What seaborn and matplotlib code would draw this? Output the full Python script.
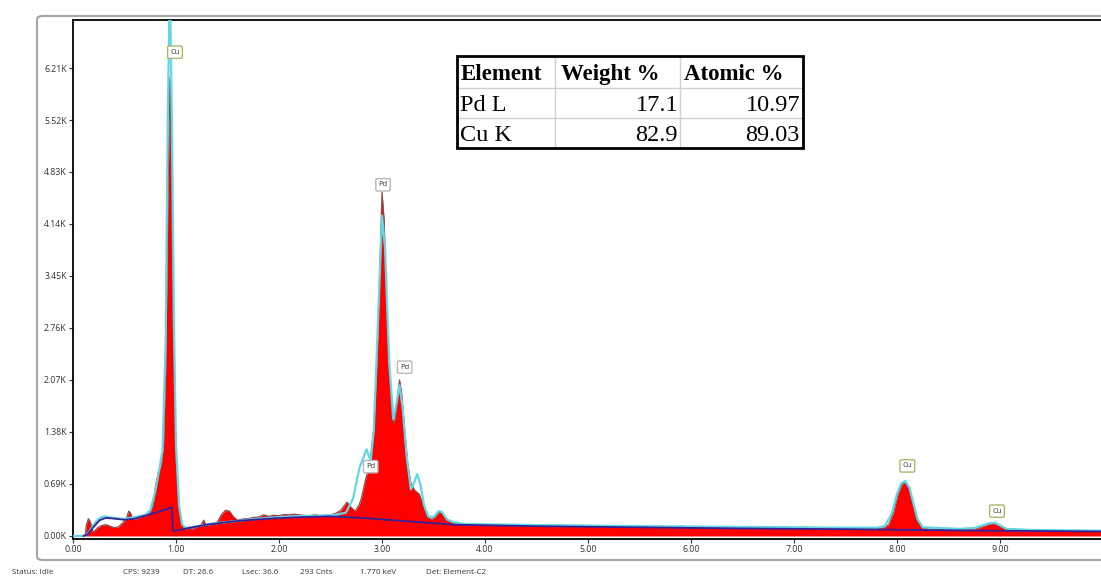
import matplotlib
matplotlib.use("Agg")
import matplotlib.pyplot as plt
from matplotlib.patches import FancyBboxPatch, Rectangle
from matplotlib.lines import Line2D
import seaborn as sns
import pandas as pd

# ---- EDS spectrum: measured counts (energy in keV, counts) ----
spec_energy = [0.00, 0.10, 0.12, 0.13, 0.15, 0.17, 0.19, 0.21, 0.24, 0.28, 0.32, 0.36, 0.40, 0.44,
               0.48, 0.52, 0.54, 0.56, 0.58, 0.62, 0.66, 0.70, 0.74, 0.78, 0.80, 0.83, 0.86, 0.88,
               0.90, 0.92, 0.94, 0.955, 0.97, 0.99, 1.01, 1.03, 1.05, 1.07, 1.10, 1.13, 1.16,
               1.20, 1.24, 1.27, 1.29, 1.32, 1.36, 1.40, 1.44, 1.48, 1.52, 1.56, 1.60, 1.65, 1.70,
               1.75, 1.80, 1.85, 1.90, 1.95, 2.00, 2.05, 2.10, 2.15, 2.20, 2.25, 2.30, 2.35, 2.40,
               2.45, 2.50, 2.55, 2.60, 2.66, 2.70, 2.74, 2.78, 2.80, 2.84, 2.88, 2.92, 2.95, 2.98,
               3.00, 3.02, 3.04, 3.07, 3.10, 3.12, 3.15, 3.17, 3.19, 3.22, 3.25, 3.28, 3.32, 3.36,
               3.40, 3.44, 3.48, 3.52, 3.55, 3.58, 3.61, 3.65, 3.70, 3.75, 3.80, 3.90, 4.00, 4.10,
               4.20, 4.30, 4.40, 4.50, 4.60, 4.70, 4.80, 4.90, 5.00, 5.10, 5.20, 5.30, 5.40, 5.50,
               5.60, 5.70, 5.80, 5.90, 6.00, 6.10, 6.20, 6.30, 6.40, 6.50, 6.60, 6.70, 6.80, 6.90,
               7.00, 7.10, 7.20, 7.30, 7.40, 7.50, 7.60, 7.70, 7.80, 7.85, 7.92, 7.97, 8.01, 8.05,
               8.08, 8.11, 8.15, 8.19, 8.24, 8.30, 8.40, 8.50, 8.60, 8.70, 8.78, 8.84, 8.89, 8.93,
               8.96, 9.00, 9.04, 9.08, 9.15, 9.20, 9.30, 9.40, 9.50, 9.60, 9.70, 9.80, 9.98]
spec_counts = [0, 0, 20, 150, 230, 180, 60, 70, 110, 140, 150, 130, 110, 120,
               170, 230, 330, 300, 220, 230, 250, 270, 290, 420, 650, 850, 960, 1250,
               2200, 4300, 6080, 5000, 3000, 1600, 800, 400, 200, 130, 100, 120, 90,
               120, 140, 210, 150, 160, 170, 180, 280, 340, 330, 250, 210, 225, 230,
               245, 250, 280, 260, 275, 270, 285, 280, 290, 280, 272, 270, 282, 270,
               276, 280, 300, 340, 450, 380, 330, 420, 500, 750, 950, 1400, 2300, 3600,
               4560, 4200, 3300, 2200, 1550, 1500, 1850, 2070, 1900, 1400, 950, 700, 600, 560,
               420, 250, 220, 260, 310, 320, 260, 200, 170, 160, 150, 158, 145, 152,
               140, 148, 138, 146, 134, 142, 136, 130, 138, 128, 134, 126, 132, 130,
               124, 129, 121, 128, 120, 125, 118, 122, 117, 121, 114, 119, 112, 117,
               110, 116, 108, 113, 107, 111, 104, 108, 102, 100, 150, 330, 560, 690,
               705, 650, 450, 230, 110, 92, 88, 90, 84, 82, 100, 130, 158, 165,
               160, 140, 110, 80, 74, 72, 70, 68, 70, 66, 65, 64, 62]

# ---- fitted spectrum ----
fit_energy = [0.00, 0.12, 0.16, 0.20, 0.25, 0.30, 0.35, 0.40, 0.45, 0.50, 0.55, 0.60, 0.65, 0.70,
              0.75, 0.80, 0.84, 0.87, 0.90, 0.92, 0.94, 0.96, 0.98, 1.00, 1.03, 1.06, 1.10, 1.20,
              1.40, 1.60, 1.80, 2.00, 2.20, 2.40, 2.55, 2.65, 2.72, 2.78, 2.85, 2.89, 2.92, 2.96,
              3.00, 3.03, 3.07, 3.11, 3.14, 3.17, 3.20, 3.24, 3.28, 3.31, 3.34, 3.37, 3.41, 3.45,
              3.50, 3.55, 3.58, 3.63, 3.70, 3.80, 4.50, 5.50, 6.50, 7.50, 7.80, 7.88, 7.95, 8.00,
              8.04, 8.08, 8.12, 8.16, 8.20, 8.25, 8.60, 8.75, 8.85, 8.90, 8.95, 9.00, 9.06, 9.30,
              9.98]
fit_counts = [0, 0, 60, 150, 230, 260, 250, 240, 230, 225, 240, 250, 265, 280,
              340, 600, 900, 1150, 2600, 5500, 7400, 5500, 2800, 1200, 400, 150, 100, 130,
              170, 200, 230, 250, 265, 270, 280, 310, 500, 900, 1150, 1000, 1400, 2800,
              4250, 3800, 2300, 1550, 1750, 2000, 1700, 1050, 620, 700, 820, 700, 400, 260,
              250, 330, 320, 220, 180, 160, 145, 130, 120, 110, 110, 130, 300, 560,
              700, 730, 640, 430, 220, 115, 95, 105, 150, 170, 175, 140, 95, 80,
              70]

# ---- continuum background ----
bkg_energy = [0.10, 0.14, 0.20, 0.26, 0.32, 0.40, 0.50, 0.60, 0.70, 0.80, 0.90, 0.96, 0.97,
              1.00, 1.10, 1.30, 1.60, 1.90, 2.20, 2.50, 2.80, 3.10, 3.40, 3.70, 4.50, 5.50,
              6.50, 7.50, 8.50, 9.50, 9.98]
bkg_counts = [0, 20, 120, 210, 240, 230, 215, 230, 270, 310, 350, 380, 70,
              70, 100, 150, 200, 230, 250, 260, 240, 210, 180, 150, 130, 115,
              100, 90, 75, 65, 60]

# ---- peak identifications ----
peak_labels = ["Cu", "Pd", "Pd", "Pd", "Cu", "Cu"]
peak_energy = [0.99, 3.01, 3.22, 2.89, 8.10, 8.97]
peak_label_y = [6420, 4660, 2240, 920, 930, 330]

# ---- quantification table ----
table_header = ["Element", "Weight %", "Atomic %"]
table_elements = ["Pd L", "Cu K"]
table_weight = ["17.1", "82.9"]
table_atomic = ["10.97", "89.03"]

# ---- acquisition status ----
status_items = ["Status: Idle", "CPS: 9239", "DT: 26.6", "Lsec: 36.6", "293 Cnts",
                "1.770 keV", "Det: Element-C2"]

y_ticks = [0, 690, 1380, 2070, 2760, 3450, 4140, 4830, 5520, 6210]
x_ticks = [0, 1, 2, 3, 4, 5, 6, 7, 8, 9]

sns.set_theme(style="white")
plt.rcParams["font.family"] = ["Open Sans", "DejaVu Sans"]

W, H = 1101, 576
fig = plt.figure(figsize=(W / 100, H / 100), dpi=100)
fig.patch.set_facecolor("white")

# outer panel frame
frame = FancyBboxPatch((37 / W, 16 / H), (W + 20) / W, (560 - 16) / H,
                       boxstyle="round,pad=0,rounding_size=0.006",
                       transform=fig.transFigure, fc="none", ec="#a8a8a8", lw=1.6,
                       clip_on=False)
fig.patches.append(frame)

ax = fig.add_axes([73 / W, (H - 539) / H, (W - 73) / W, (539 - 20) / H])
ax.set_facecolor("white")

spec = pd.DataFrame({"Energy": spec_energy, "Counts": spec_counts})
fit = pd.DataFrame({"Energy": fit_energy, "Counts": fit_counts})
bkg = pd.DataFrame({"Energy": bkg_energy, "Counts": bkg_counts})

ax.fill_between(spec["Energy"], 0, spec["Counts"], color="#ff0000", lw=0, zorder=2)
sns.lineplot(data=spec, x="Energy", y="Counts", ax=ax, color="#8c4a4a", lw=0.9,
             zorder=3, estimator=None, sort=False)
sns.lineplot(data=fit, x="Energy", y="Counts", ax=ax, color="#62d6e3", lw=1.6,
             zorder=4, estimator=None, sort=False)
sns.lineplot(data=bkg, x="Energy", y="Counts", ax=ax, color="#33229a", lw=1.3,
             zorder=5, estimator=None, sort=False)

for lab, e, yv in zip(peak_labels, peak_energy, peak_label_y):
    ec = "#a9b865" if lab == "Cu" else "#bdb4b4"
    ax.text(e, yv, lab, fontsize=5.5, ha="center", va="center", color="#333333", zorder=6,
            bbox=dict(boxstyle="round,pad=0.35,rounding_size=0.2", fc="white", ec=ec, lw=1.0))

ax.set_xlim(0, 9.98)
ax.set_ylim(-40, 6847)
ax.set_xticks(x_ticks)
ax.set_xticklabels([f"{v:.2f}" for v in x_ticks])
ax.set_yticks(y_ticks)
ax.set_yticklabels([f"{v / 1000:.2f}K" for v in y_ticks])
ax.set_xlabel("")
ax.set_ylabel("")
ax.tick_params(axis="both", labelsize=6.3, colors="#333333", direction="out", length=3,
               width=0.8, pad=1.5)
ax.tick_params(axis="both", which="both", left=True, bottom=True)
for side in ["left", "bottom", "top"]:
    ax.spines[side].set_visible(True)
    ax.spines[side].set_color("black")
    ax.spines[side].set_linewidth(1.3)
ax.spines["right"].set_visible(False)
ax.grid(False)

# quantification table (figure pixel coordinates converted to fractions)
def fx(px):
    return px / W


def fy(py):
    return (H - py) / H


col_edges = [457, 555, 680, 803]
row_edges = [56, 88, 118, 148]
serif = ["Liberation Serif", "DejaVu Serif"]

for r in range(1, 3):
    fig.lines.append(Line2D([fx(457), fx(803)], [fy(row_edges[r])] * 2,
                            transform=fig.transFigure, color="#d0d0d0", lw=1.0, zorder=7))
for c in range(1, 3):
    fig.lines.append(Line2D([fx(col_edges[c])] * 2, [fy(56), fy(148)],
                            transform=fig.transFigure, color="#d0d0d0", lw=1.0, zorder=7))
fig.patches.append(Rectangle((fx(457), fy(148)), fx(803) - fx(457), fy(56) - fy(148),
                             transform=fig.transFigure, fc="none", ec="black", lw=2.0,
                             zorder=8))

def row_mid(r):
    return fy((row_edges[r] + row_edges[r + 1]) / 2)


header_x = [461, 561, 684]
for txt, x in zip(table_header, header_x):
    fig.text(fx(x), row_mid(0), txt, family=serif, fontsize=16.5, fontweight="bold",
             ha="left", va="center_baseline", color="black")
for i in range(2):
    fig.text(fx(460), row_mid(i + 1), table_elements[i], family=serif, fontsize=17.5,
             ha="left", va="center_baseline", color="black")
    fig.text(fx(678), row_mid(i + 1), table_weight[i], family=serif, fontsize=17.5,
             ha="right", va="center_baseline", color="black")
    fig.text(fx(800), row_mid(i + 1), table_atomic[i], family=serif, fontsize=17.5,
             ha="right", va="center_baseline", color="black")

# status bar
status_x = [12, 123, 183, 242, 300, 360, 426]
for txt, x in zip(status_items, status_x):
    fig.text(fx(x), fy(572), txt, fontsize=5.8, ha="left", va="center", color="#333333")

fig.savefig("out.png", dpi=100, facecolor="white")
